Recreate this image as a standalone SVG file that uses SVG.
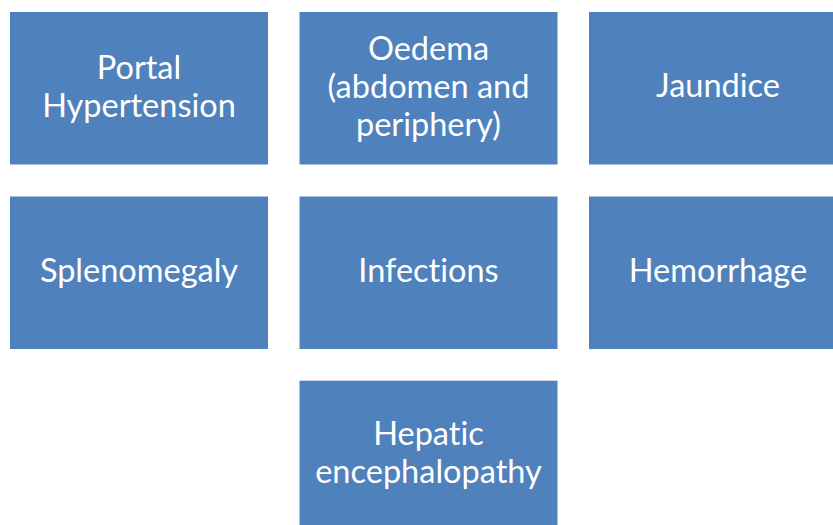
<svg xmlns="http://www.w3.org/2000/svg" width="833" height="525" viewBox="0 0 833 525">
<style>
.b{fill:#4F81BD}
.t{fill:#fff;font-family:Lato,"Open Sans",sans-serif;font-size:32.5px;text-anchor:middle;font-variant-ligatures:none}
</style>
<rect width="833" height="525" fill="#fff"/>
<g id="portal"><rect class="b" x="10" y="12" width="258" height="152.5"/><text class="t" x="139" y="78.5">Portal</text><text class="t" x="139" y="116.5">Hypertension</text></g>
<g id="oedema"><rect class="b" x="299.5" y="12" width="258" height="152.5"/><text class="t" x="428.5" y="59.5">Oedema</text><text class="t" x="428.5" y="97.5">(abdomen and</text><text class="t" x="428.5" y="135.5">periphery)</text></g>
<g id="jaundice"><rect class="b" x="589" y="12" width="258" height="152.5"/><text class="t" x="718" y="97">Jaundice</text></g>
<g id="splenomegaly"><rect class="b" x="10" y="196.5" width="258" height="152.5"/><text class="t" x="139" y="281.5">Splenomegaly</text></g>
<g id="infections"><rect class="b" x="299.5" y="196.5" width="258" height="152.5"/><text class="t" x="428.5" y="281.5">Infections</text></g>
<g id="hemorrhage"><rect class="b" x="589" y="196.5" width="258" height="152.5"/><text class="t" x="718" y="281.5">Hemorrhage</text></g>
<g id="hepatic"><rect class="b" x="299.5" y="380.7" width="258" height="152.5"/><text class="t" x="428.5" y="445">Hepatic</text><text class="t" x="428.5" y="483">encephalopathy</text></g>
<g id="connectors"></g>
</svg>
